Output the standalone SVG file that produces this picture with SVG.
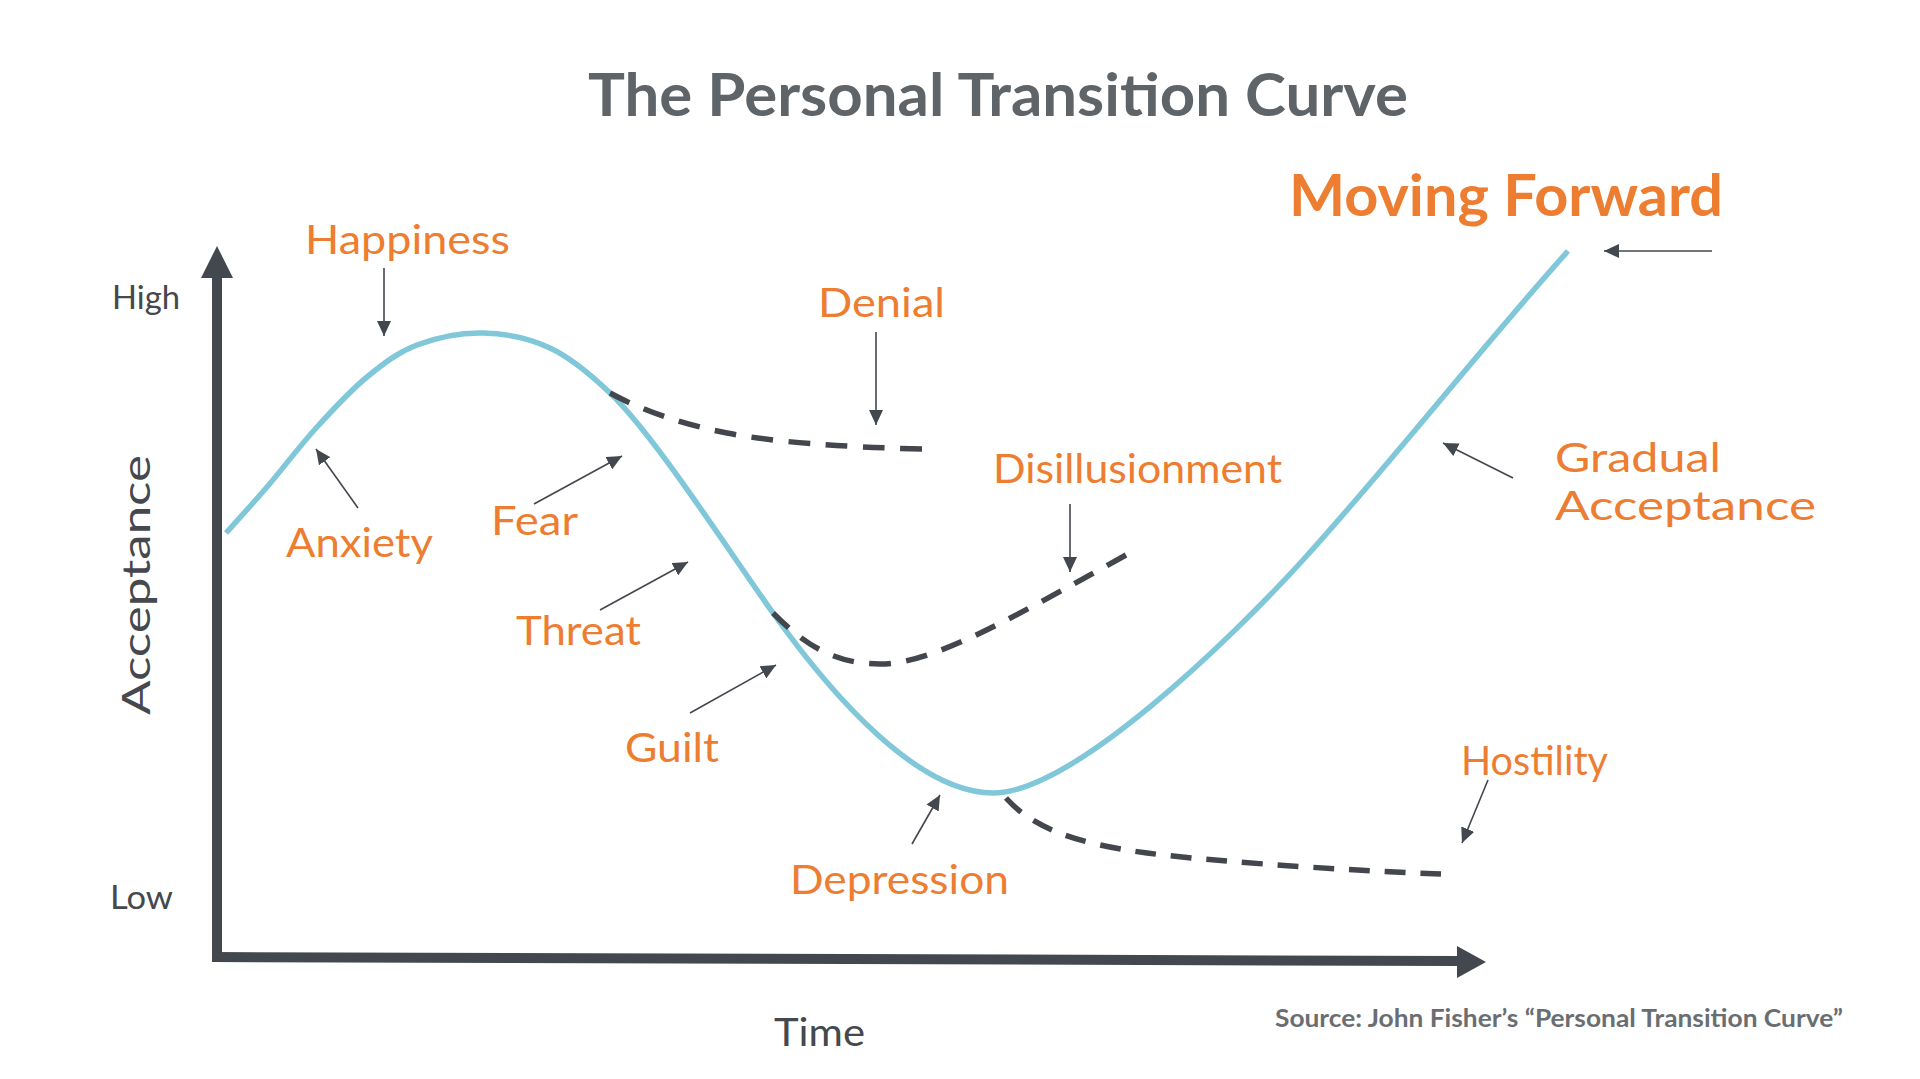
<svg xmlns="http://www.w3.org/2000/svg" width="1920" height="1079" viewBox="0 0 1920 1079">
<defs>
<style>
.lbl{font-family:Lato,"Noto Sans","Liberation Sans",sans-serif;font-size:40px;fill:#ED7D31}
.ax{font-family:Lato,"Noto Sans","Liberation Sans",sans-serif;fill:#45484D}
.bold{font-family:Lato,"Noto Sans","Liberation Sans",sans-serif;font-weight:bold}
.thin{fill:none;stroke:#43474E;stroke-width:1.6;marker-end:url(#ah)}
.dash{fill:none;stroke:#43464C;stroke-width:5.5;stroke-dasharray:21 15}
</style>
<marker id="ah" viewBox="0 0 15 14" refX="15" refY="7" markerWidth="15" markerHeight="14" markerUnits="userSpaceOnUse" orient="auto">
<path d="M0,0 L15,7 L0,14 z" fill="#43474E"/>
</marker>
</defs>
<rect width="1920" height="1079" fill="#FFFFFF"/>

<g id="title">
<text class="bold" x="588" y="116" font-size="60" fill="#5F6469" textLength="820" lengthAdjust="spacingAndGlyphs">The Personal Transition Curve</text>
</g>

<g id="axes">
<line x1="217" y1="962" x2="217" y2="276" stroke="#43474E" stroke-width="10"/>
<polygon points="201,278 217,246 233,278" fill="#43474E"/>
<line x1="212" y1="957" x2="1460" y2="961" stroke="#43474E" stroke-width="10"/>
<polygon points="1457,946 1486,962 1457,978" fill="#43474E"/>
<text class="ax" x="112" y="309" font-size="32" textLength="68" lengthAdjust="spacingAndGlyphs">High</text>
<text class="ax" x="110" y="909" font-size="32" textLength="63" lengthAdjust="spacingAndGlyphs">Low</text>
<text class="ax" transform="translate(150,715) rotate(-90)" x="0" y="0" font-size="39" textLength="260" lengthAdjust="spacingAndGlyphs">Acceptance</text>
<text class="ax" x="774" y="1046" font-size="38" textLength="91" lengthAdjust="spacingAndGlyphs">Time</text>
</g>

<g id="curve">
<path fill="none" stroke="#80C8D9" stroke-width="5.5" stroke-linecap="butt" d="M226,533 C232.8,525.3 251.8,504.7 267,487 C282.2,469.3 300.3,445.3 317,427 C333.7,408.7 350.3,390.7 367,377 C383.7,363.3 397.7,352.3 417,345 C436.3,337.7 460.8,332.5 483,333 C505.2,333.5 528.8,338 550,348 C571.2,358 591.7,375.5 610,393 C655,436 728,550 773,613 C833,697 918,793 993,793 C1073,793 1233,637 1303,560 C1391,463 1480,349 1568,251"/>
</g>

<g id="branches">
<path class="dash" pathLength="309" d="M610,393 Q660,420 727,433 T922,449"/>
<path class="dash" pathLength="381" d="M773,613 C800,640 830,664 880,664 C930,664 1000,625 1126,555"/>
<path class="dash" pathLength="453" d="M1006,798 C1030,825 1070,843 1147,853 S1380,872 1441,874"/>
</g>

<g id="connectors">
<line class="thin" x1="384" y1="268" x2="384" y2="336"/>
<line class="thin" x1="876" y1="332" x2="876" y2="425"/>
<line class="thin" x1="358" y1="508" x2="316" y2="449"/>
<line class="thin" x1="534" y1="504" x2="622" y2="456"/>
<line class="thin" x1="600" y1="610" x2="688" y2="562"/>
<line class="thin" x1="690" y1="713" x2="776" y2="665"/>
<line class="thin" x1="1070" y1="504" x2="1070" y2="572"/>
<line class="thin" x1="912" y1="844" x2="940" y2="795"/>
<line class="thin" x1="1488" y1="780" x2="1462" y2="843"/>
<line class="thin" x1="1513" y1="478" x2="1443" y2="443"/>
<line class="thin" x1="1712" y1="251" x2="1604" y2="251"/>
</g>

<g id="n-happiness"><text class="lbl" x="305" y="254" textLength="205" lengthAdjust="spacingAndGlyphs">Happiness</text></g>
<g id="n-denial"><text class="lbl" x="818" y="317" textLength="127" lengthAdjust="spacingAndGlyphs">Denial</text></g>
<g id="n-anxiety"><text class="lbl" x="286" y="557" textLength="147" lengthAdjust="spacingAndGlyphs">Anxiety</text></g>
<g id="n-fear"><text class="lbl" x="491" y="535" textLength="87" lengthAdjust="spacingAndGlyphs">Fear</text></g>
<g id="n-threat"><text class="lbl" x="516" y="645" textLength="125" lengthAdjust="spacingAndGlyphs">Threat</text></g>
<g id="n-guilt"><text class="lbl" x="625" y="762" textLength="94" lengthAdjust="spacingAndGlyphs">Guilt</text></g>
<g id="n-disillusionment"><text class="lbl" x="993" y="483" textLength="289" lengthAdjust="spacingAndGlyphs">Disillusionment</text></g>
<g id="n-depression"><text class="lbl" x="790" y="894" textLength="219" lengthAdjust="spacingAndGlyphs">Depression</text></g>
<g id="n-hostility"><text class="lbl" x="1461" y="775" textLength="147" lengthAdjust="spacingAndGlyphs">Hostility</text></g>
<g id="n-gradual"><text class="lbl" x="1555" y="472" textLength="166" lengthAdjust="spacingAndGlyphs">Gradual</text><text class="lbl" x="1555" y="520" textLength="261" lengthAdjust="spacingAndGlyphs">Acceptance</text></g>
<g id="n-moving"><text class="bold" x="1289" y="216" font-size="58" fill="#ED7D31" textLength="434" lengthAdjust="spacingAndGlyphs">Moving Forward</text></g>

<g id="source">
<text class="bold" x="1275" y="1027" font-size="24" fill="#6A6E72" textLength="568" lengthAdjust="spacingAndGlyphs">Source: John Fisher’s “Personal Transition Curve”</text>
</g>
</svg>
